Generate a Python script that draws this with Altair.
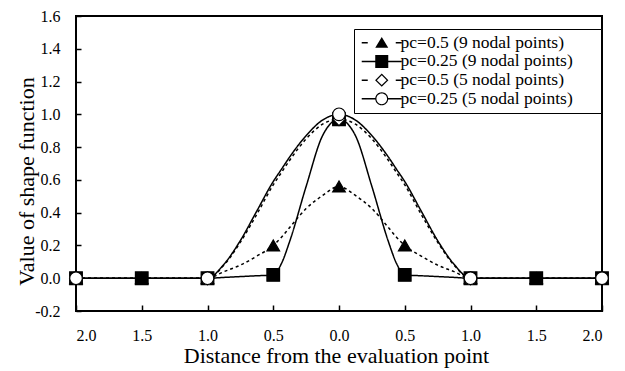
import altair as alt
import pandas as pd

# ---------------- data ----------------
series_names = [
    "pc=0.5 (9 nodal points)",
    "pc=0.25 (9 nodal points)",
    "pc=0.5 (5 nodal points)",
    "pc=0.25 (5 nodal points)",
]

# nodal points (markers)
nodes_9 = [-2.0, -1.5, -1.0, -0.5, 0.0, 0.5, 1.0, 1.5, 2.0]
nodes_5 = [-2.0, -1.0, 0.0, 1.0, 2.0]
tri_nodes = [0.0, 0.0, 0.0, 0.2, 0.56, 0.2, 0.0, 0.0, 0.0]
sq_nodes = [0.0, 0.0, 0.0, 0.02, 0.97, 0.02, 0.0, 0.0, 0.0]
dia_nodes = [0.0, 0.0, 0.97, 0.0, 0.0]
cir_nodes = [0.0, 0.0, 1.0, 0.0, 0.0]

# smooth curves
curve_x = [-2.0, -1.5, -1.0, -0.875, -0.75, -0.625, -0.5, -0.4375, -0.375, -0.25, -0.125, 0.0,
           0.125, 0.25, 0.375, 0.4375, 0.5, 0.625, 0.75, 0.875, 1.0, 1.5, 2.0]
tri_curve = [0, 0, 0, 0.04, 0.08, 0.135, 0.2, 0.25, 0.31, 0.425, 0.505, 0.56,
             0.505, 0.425, 0.31, 0.25, 0.2, 0.135, 0.08, 0.04, 0, 0, 0]
sq_curve = [0, 0, 0, 0.005, 0.01, 0.015, 0.02, 0.09, 0.225, 0.56, 0.87, 0.97,
            0.87, 0.56, 0.225, 0.09, 0.02, 0.015, 0.01, 0.005, 0, 0, 0]
dia_curve = [0, 0, 0, 0.08, 0.22, 0.39, 0.57, 0.645, 0.72, 0.85, 0.94, 0.97,
             0.94, 0.85, 0.72, 0.645, 0.57, 0.39, 0.22, 0.08, 0, 0, 0]
cir_curve = [0, 0, 0, 0.085, 0.23, 0.41, 0.59, 0.665, 0.74, 0.87, 0.965, 1.0,
             0.965, 0.87, 0.74, 0.665, 0.59, 0.41, 0.23, 0.085, 0, 0, 0]

x_ticks = [-2.0, -1.5, -1.0, -0.5, 0.0, 0.5, 1.0, 1.5, 2.0]
y_ticks = [-0.2, 0.0, 0.2, 0.4, 0.6, 0.8, 1.0, 1.2, 1.4, 1.6]

# ---------------- tables ----------------
curves = pd.concat([
    pd.DataFrame({"x": curve_x, "y": tri_curve, "series": series_names[0]}),
    pd.DataFrame({"x": curve_x, "y": sq_curve, "series": series_names[1]}),
    pd.DataFrame({"x": curve_x, "y": dia_curve, "series": series_names[2]}),
    pd.DataFrame({"x": curve_x, "y": cir_curve, "series": series_names[3]}),
], ignore_index=True)

markers = pd.concat([
    pd.DataFrame({"x": nodes_9, "y": tri_nodes, "series": series_names[0]}),
    pd.DataFrame({"x": nodes_9, "y": sq_nodes, "series": series_names[1]}),
    pd.DataFrame({"x": nodes_5, "y": dia_nodes, "series": series_names[2]}),
    pd.DataFrame({"x": nodes_5, "y": cir_nodes, "series": series_names[3]}),
], ignore_index=True)
markers["order"] = range(len(markers))

FONT = "Liberation Serif"
W, H = 526, 295


def bar(a, b, t=0.11):
    return f"M{a},{-t}H{b}V{t}H{a}Z"


tri_sym = "M0,-0.82L0.93,0.72L-0.93,0.72Z"
sq_sym = "M-0.93,-0.93H0.93V0.93H-0.93Z"
dia_sym = "M0,-0.95L0.95,0L0,0.95L-0.95,0ZM0,-0.7L-0.7,0L0,0.7L0.7,0Z"
cir_sym = ("M0.93,0A0.93,0.93 0 1,1 -0.93,0A0.93,0.93 0 1,1 0.93,0Z"
           "M0.76,0A0.76,0.76 0 1,0 -0.76,0A0.76,0.76 0 1,0 0.76,0Z")
dash_bars = bar(-2.86, -2.0) + bar(2.0, 2.86)
legend_paths = [
    dash_bars + tri_sym,
    bar(-2.86, 2.86) + sq_sym,
    dash_bars + dia_sym,
    bar(-2.86, -0.85) + bar(0.85, 2.86) + cir_sym,
]

x_scale = alt.Scale(domain=[-2, 2], nice=False, zero=False)
y_scale = alt.Scale(domain=[-0.2, 1.6], nice=False, zero=False)

x_label_expr = "format(abs(datum.value), '.1f')"
y_label_expr = "(datum.value < -0.001 ? '-' : '') + format(abs(datum.value), '.1f')"

lines = alt.Chart(curves).mark_line(
    color="black", strokeWidth=1.5, interpolate="monotone"
).encode(
    x=alt.X("x:Q", scale=x_scale, axis=alt.Axis(
        orient="bottom", values=x_ticks, labelExpr=x_label_expr, ticks=False,
        domain=False, grid=False, labelPadding=16, labelFontSize=16, labelFont=FONT,
        labelColor="black", title="Distance from the evaluation point", titleFont=FONT,
        titleFontSize=22, titleFontWeight="normal", titleColor="black",
        titleBaseline="alphabetic", titleY=51, titleX=260)),
    y=alt.Y("y:Q", scale=y_scale, axis=alt.Axis(
        orient="left", values=y_ticks, labelExpr=y_label_expr, ticks=False,
        domain=False, grid=False, labelPadding=16, labelFontSize=16, labelFont=FONT,
        labelColor="black", title="Value of shape function", titleFont=FONT,
        titleFontSize=22, titleFontWeight="normal", titleColor="black",
        titleAngle=270, titleBaseline="alphabetic", titleAlign="center",
        titleX=-43, titleY=165)),
    strokeDash=alt.StrokeDash("series:N", scale=alt.Scale(
        domain=series_names, range=[[3, 3], [1, 0], [3, 3], [1, 0]]), legend=None),
    detail="series:N",
)

points = alt.Chart(markers).mark_point(
    filled=True, stroke="black", strokeWidth=1.2, size=160, opacity=1
).encode(
    x=alt.X("x:Q", scale=x_scale, axis=alt.Axis(
        orient="top", offset=-H, values=x_ticks, labels=False, domain=False,
        grid=False, ticks=True, tickSize=6, tickWidth=1.5, tickColor="black", title=None)),
    y=alt.Y("y:Q", scale=y_scale, axis=alt.Axis(
        orient="right", offset=-W, values=y_ticks, labels=False, domain=False,
        grid=False, ticks=True, tickSize=5, tickWidth=1.5, tickColor="black", title=None)),
    shape=alt.Shape("series:N", scale=alt.Scale(
        domain=series_names, range=["triangle-up", "square", "diamond", "circle"]), legend=None),
    fill=alt.Fill("series:N", scale=alt.Scale(
        domain=series_names, range=["black", "black", "white", "white"]), legend=None),
    order=alt.Order("order:Q"),
)

legend_layer = alt.Chart(markers).mark_point(
    filled=True, color="black", opacity=0
).encode(
    x=alt.X("x:Q", scale=x_scale, axis=None),
    y=alt.Y("y:Q", scale=y_scale, axis=None),
    shape=alt.Shape("series:N", title="xx", scale=alt.Scale(
        domain=series_names, range=legend_paths), legend=alt.Legend(
        orient="none", legendX=278, legendY=13, padding=5, rowPadding=-0.3,
        strokeColor="black", fillColor="white", symbolSize=196, symbolStrokeWidth=0,
        symbolOpacity=1, symbolFillColor="black", symbolOffset=14, labelOffset=10,
        titleOrient="right", titleColor="white", titleFontSize=11, titlePadding=12,
        labelFont=FONT, labelFontSize=17.5, labelColor="black", labelLimit=400)),
)

chart = alt.layer(lines, points, legend_layer).resolve_scale(
    shape="independent"
).resolve_axis(
    x="independent", y="independent"
).properties(
    width=W, height=H,
    autosize=alt.AutoSizeParams(type="none"),
    padding={"left": 68, "top": 8, "right": 15, "bottom": 60},
).configure(
    font=FONT, background="white"
).configure_view(
    stroke="black", strokeWidth=2
)

chart.save("out.html", embed_options={"renderer": "svg", "actions": False})
